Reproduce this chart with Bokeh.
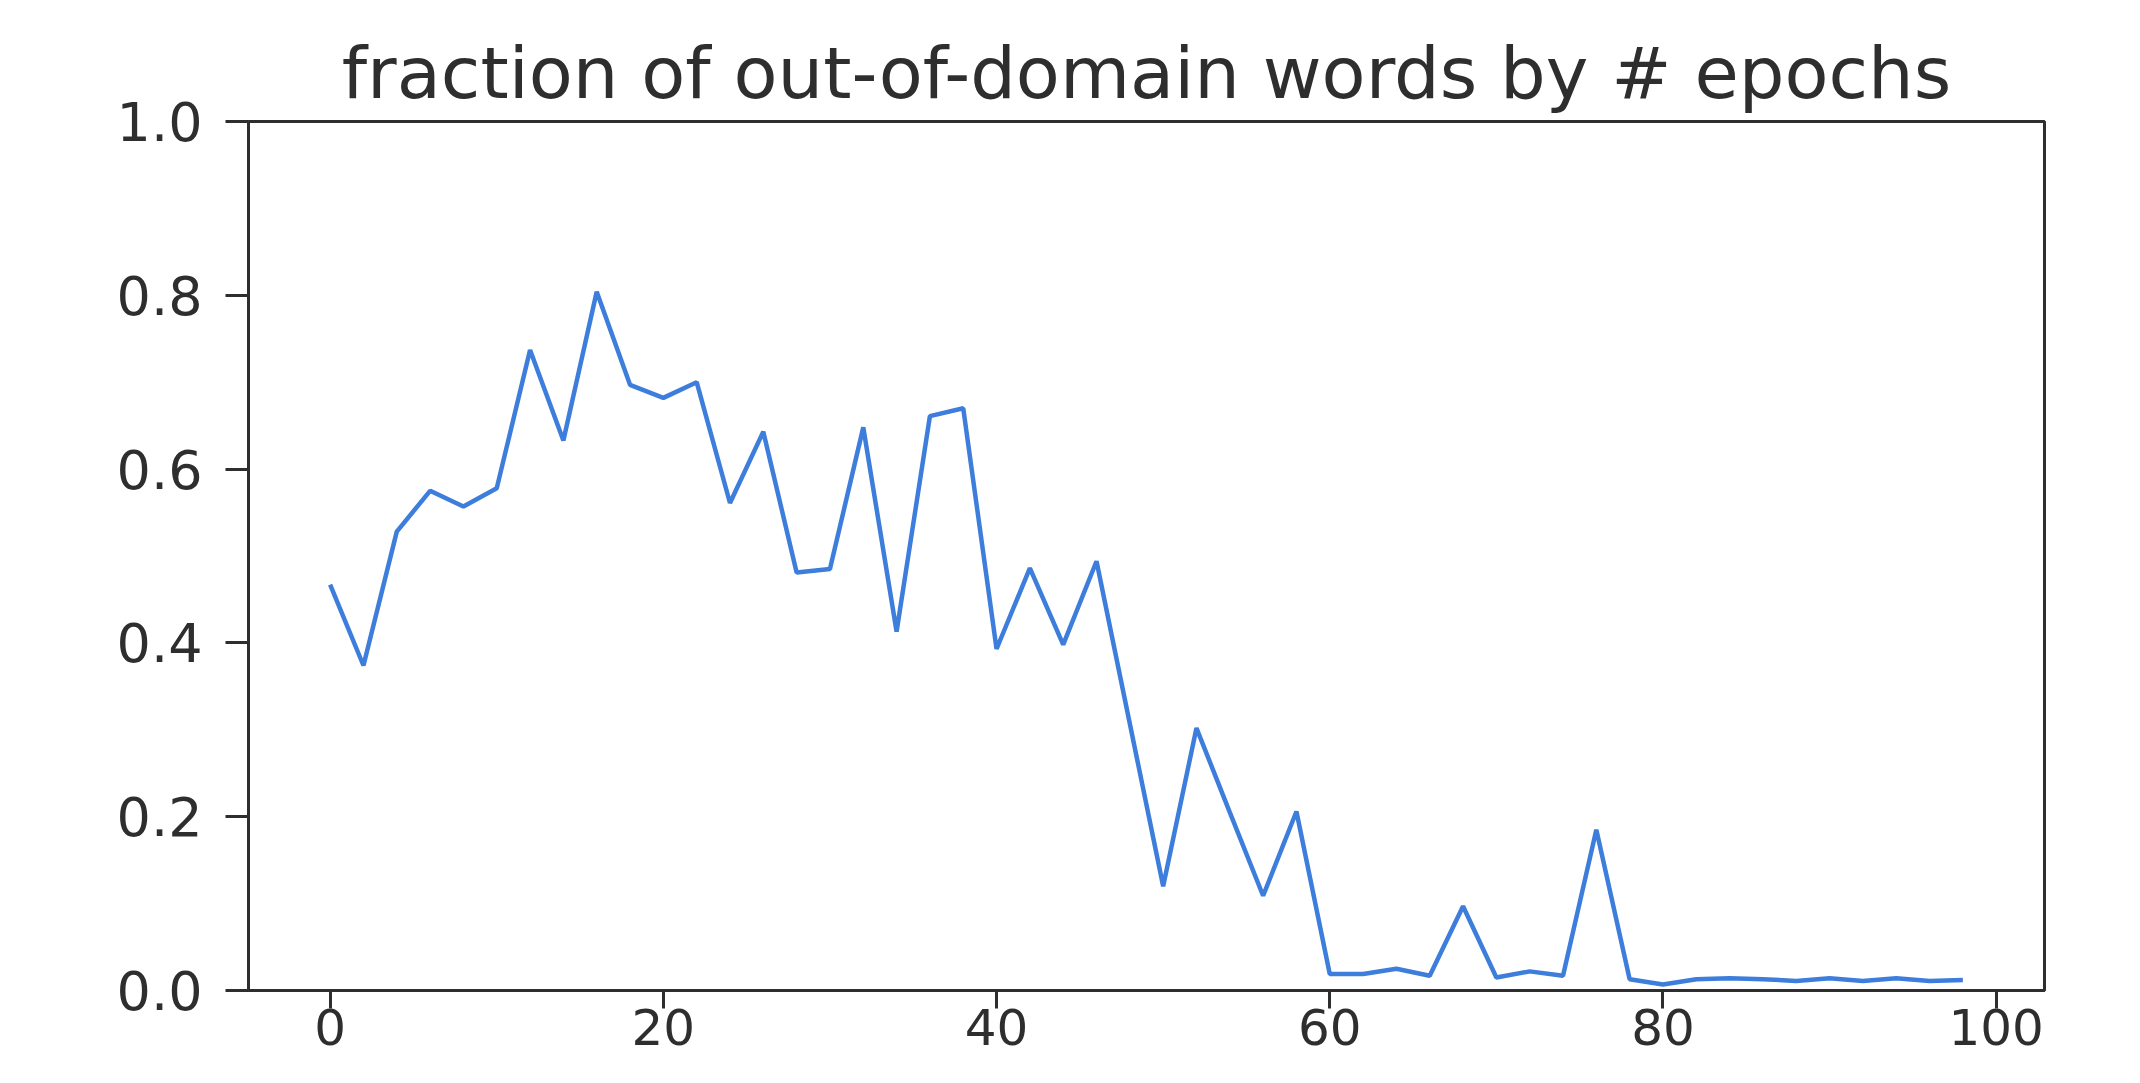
from bokeh.plotting import figure
from bokeh.models import Range1d, FixedTicker
from bokeh.embed import file_html
from bokeh.resources import INLINE

# ---- data ----
epochs = list(range(0, 100, 2))
fraction = [0.467, 0.374, 0.528, 0.575, 0.557, 0.578, 0.737, 0.633, 0.804, 0.697,
            0.682, 0.700, 0.561, 0.643, 0.481, 0.485, 0.648, 0.413, 0.661, 0.670,
            0.393, 0.486, 0.398, 0.494, 0.307, 0.120, 0.302, 0.205, 0.109, 0.206,
            0.019, 0.019, 0.025, 0.017, 0.097, 0.015, 0.022, 0.017, 0.185, 0.013,
            0.007, 0.013, 0.014, 0.013, 0.011, 0.014, 0.011, 0.014, 0.011, 0.012]
x_ticks = [0, 20, 40, 60, 80, 100]
x_tick_labels = ["0", "20", "40", "60", "80", "100"]
y_ticks = [0.0, 0.2, 0.4, 0.6, 0.8, 1.0]
y_tick_labels = ["0.0", "0.2", "0.4", "0.6", "0.8", "1.0"]
title_text = "fraction of out-of-domain words by # epochs"

TEXT = "#2e2e2e"
FONT = "DejaVu Sans"

p = figure(width=2124, height=1067, output_backend="svg", toolbar_location=None,
           x_range=Range1d(-4.9, 102.9), y_range=Range1d(0, 1),
           min_border_left=248, min_border_right=80, min_border_top=121, min_border_bottom=77,
           title=title_text)
p.title.align = "center"
p.title.text_font = FONT
p.title.text_font_size = "72px"
p.title.text_font_style = "normal"
p.title.text_color = TEXT
p.title.standoff = 13

p.line(epochs, fraction, line_width=4.5, line_color="#3d7ddb")

p.grid.visible = False
p.outline_line_color = TEXT
p.outline_line_width = 3
p.outline_line_alpha = 1.0

p.xaxis.ticker = FixedTicker(ticks=x_ticks)
p.xaxis.major_label_overrides = {t: l for t, l in zip(x_ticks, x_tick_labels)}
p.yaxis.ticker = FixedTicker(ticks=y_ticks)
p.yaxis.major_label_overrides = {t: l for t, l in zip(y_ticks, y_tick_labels)}

for ax in (p.xaxis, p.yaxis):
    ax.axis_line_color = TEXT
    ax.axis_line_width = 3
    ax.major_tick_line_color = TEXT
    ax.major_tick_line_width = 3
    ax.major_tick_in = 0
    ax.minor_tick_line_color = None
    ax.major_label_text_font = FONT
    ax.major_label_text_color = TEXT
p.xaxis.major_tick_out = 18
p.xaxis.major_label_standoff = 0
p.xaxis.major_label_text_font_size = "50px"
p.yaxis.major_tick_out = 23
p.yaxis.major_label_standoff = 23
p.yaxis.major_label_text_font_size = "54px"

open("out.html", "w").write(file_html(p, INLINE))
